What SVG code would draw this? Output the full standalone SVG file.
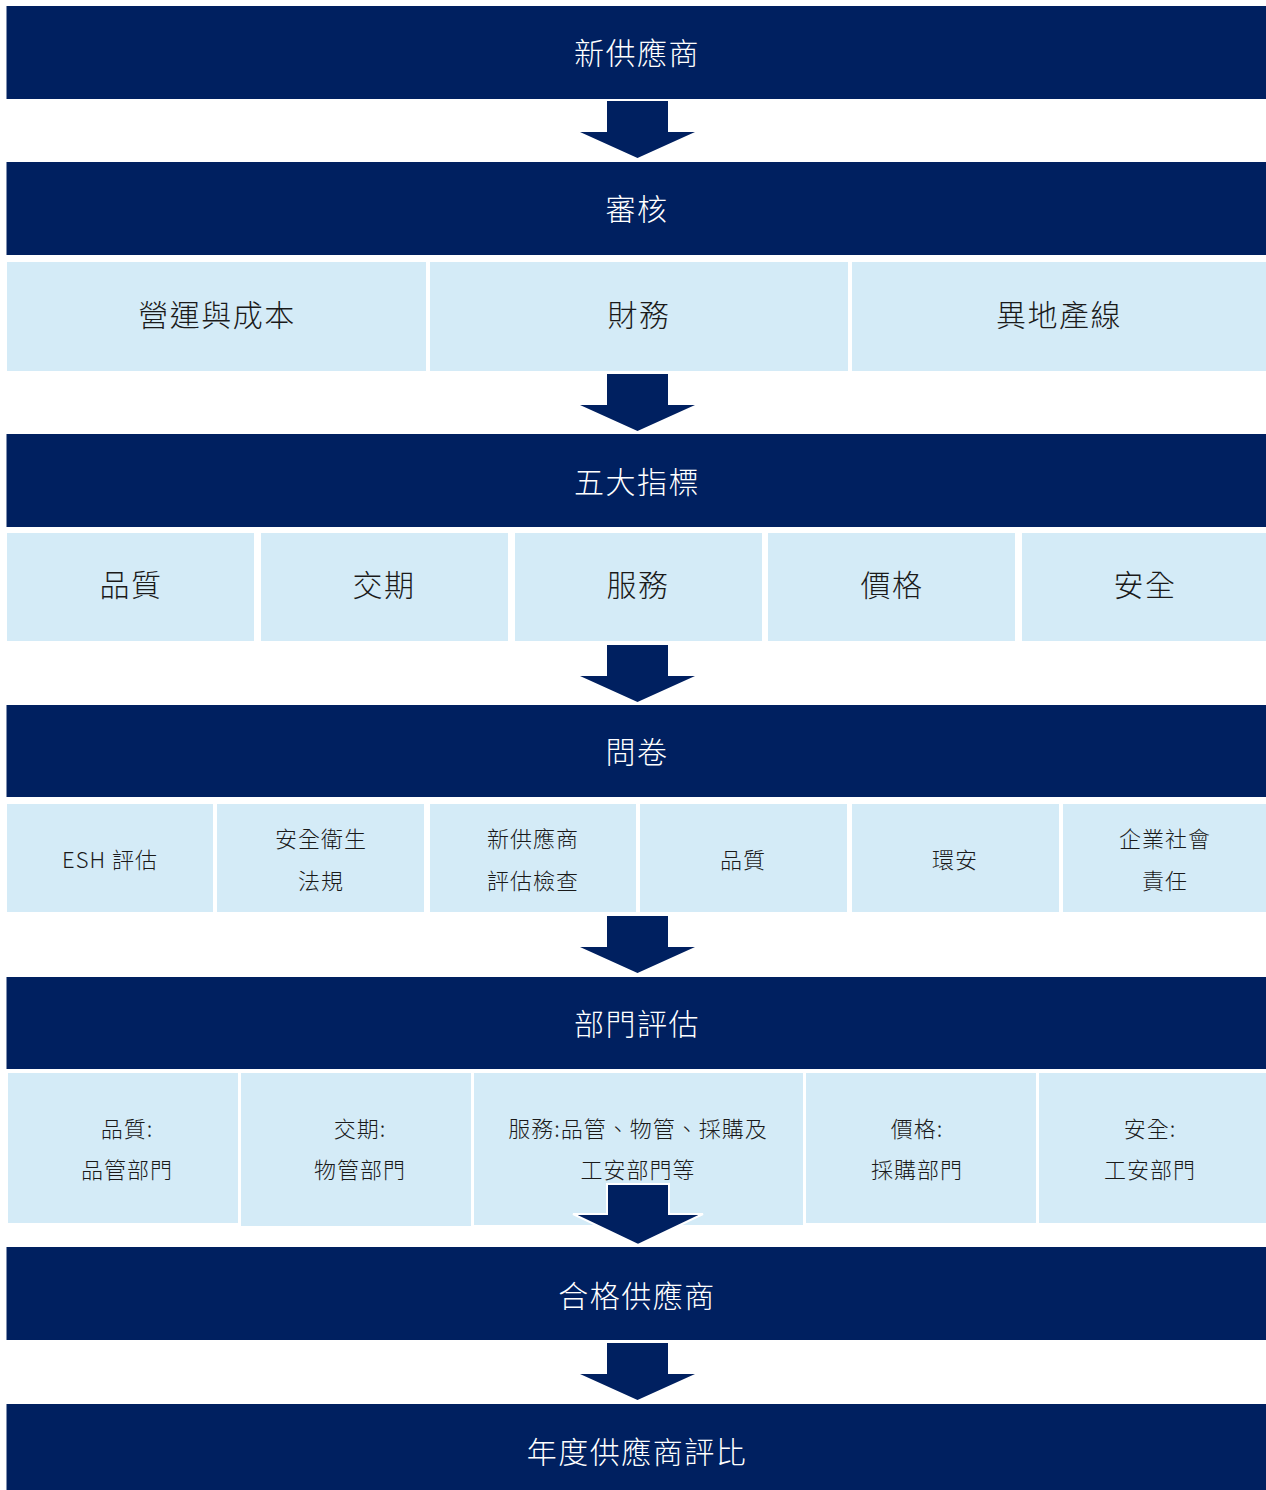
<svg xmlns="http://www.w3.org/2000/svg" xmlns:xlink="http://www.w3.org/1999/xlink" width="1266" height="1490" viewBox="0 0 1266 1490">
<style>
.bar{fill:#002060}
.cell{fill:#D4EBF7}
.bt{font-family:"Noto Sans CJK TC","Noto Sans CJK SC",sans-serif;font-size:30px;font-weight:300;fill:#FFFFFF;text-anchor:middle;letter-spacing:1.5px}
.ct{font-family:"Noto Sans CJK TC","Noto Sans CJK SC",sans-serif;font-size:30px;font-weight:300;fill:#1A1A1A;text-anchor:middle;letter-spacing:1.5px}
.st{font-family:"Noto Sans CJK TC","Noto Sans CJK SC",sans-serif;font-size:22px;font-weight:300;fill:#1A1A1A;text-anchor:middle;letter-spacing:1px}
.arr{fill:#002060}
</style>
<defs>
<path id="arrow" d="M607,0 H668 V31 H695 L637.5,57 L580,31 H607 Z"/>
</defs>
<rect width="1266" height="1490" fill="#FFFFFF"/>

<g id="bar1"><rect class="bar" x="6.5" y="6" width="1259.5" height="93"/><text class="bt" x="637" y="64">新供應商</text></g>
<g id="bar2"><rect class="bar" x="6.5" y="162" width="1259.5" height="93"/><text class="bt" x="637" y="220">審核</text></g>
<g id="c3a"><rect class="cell" x="7" y="262" width="419" height="109"/><text class="ct" x="217" y="326">營運與成本</text></g>
<g id="c3b"><rect class="cell" x="430" y="262" width="418" height="109"/><text class="ct" x="639" y="326">財務</text></g>
<g id="c3c"><rect class="cell" x="852" y="262" width="414" height="109"/><text class="ct" x="1059" y="326">異地產線</text></g>

<g id="bar3"><rect class="bar" x="6.5" y="434" width="1259.5" height="93"/><text class="bt" x="637" y="493">五大指標</text></g>
<g id="c4a"><rect class="cell" x="7" y="533" width="247" height="108"/><text class="ct" x="131" y="596">品質</text></g>
<g id="c4b"><rect class="cell" x="261" y="533" width="247" height="108"/><text class="ct" x="384" y="596">交期</text></g>
<g id="c4c"><rect class="cell" x="515" y="533" width="247" height="108"/><text class="ct" x="638" y="596">服務</text></g>
<g id="c4d"><rect class="cell" x="768" y="533" width="247" height="108"/><text class="ct" x="892" y="596">價格</text></g>
<g id="c4e"><rect class="cell" x="1022" y="533" width="244" height="108"/><text class="ct" x="1145" y="596">安全</text></g>

<g id="bar4"><rect class="bar" x="6.5" y="705" width="1259.5" height="92"/><text class="bt" x="637" y="763">問卷</text></g>
<g id="c5a"><rect class="cell" x="7" y="804" width="206" height="108"/><text class="st" x="110" y="868">ESH 評估</text></g>
<g id="c5b"><rect class="cell" x="217" y="804" width="207" height="108"/><text class="st" x="321" y="847">安全衛生</text><text class="st" x="321" y="889">法規</text></g>
<g id="c5c"><rect class="cell" x="430" y="804" width="206" height="108"/><text class="st" x="533" y="847">新供應商</text><text class="st" x="533" y="889">評估檢查</text></g>
<g id="c5d"><rect class="cell" x="640" y="804" width="207" height="108"/><text class="st" x="743" y="868">品質</text></g>
<g id="c5e"><rect class="cell" x="852" y="804" width="207" height="108"/><text class="st" x="955" y="868">環安</text></g>
<g id="c5f"><rect class="cell" x="1063" y="804" width="203" height="108"/><text class="st" x="1165" y="847">企業社會</text><text class="st" x="1165" y="889">責任</text></g>

<g id="bar5"><rect class="bar" x="6.5" y="977" width="1259.5" height="92"/><text class="bt" x="637" y="1035">部門評估</text></g>
<g id="c6a"><rect class="cell" x="8" y="1073" width="230" height="150"/><text class="st" x="127" y="1137">品質:</text><text class="st" x="127" y="1178">品管部門</text></g>
<g id="c6b"><rect class="cell" x="241" y="1073" width="230" height="153"/><text class="st" x="360" y="1137">交期:</text><text class="st" x="360" y="1178">物管部門</text></g>
<g id="c6c"><rect class="cell" x="474" y="1073" width="329" height="152"/><text class="st" x="638" y="1137">服務:品管、物管、採購及</text><text class="st" x="638" y="1178">工安部門等</text></g>
<g id="c6d"><rect class="cell" x="806" y="1073" width="230" height="150"/><text class="st" x="917" y="1137">價格:</text><text class="st" x="917" y="1178">採購部門</text></g>
<g id="c6e"><rect class="cell" x="1039" y="1073" width="227" height="150"/><text class="st" x="1150" y="1137">安全:</text><text class="st" x="1150" y="1178">工安部門</text></g>

<g id="bar6"><rect class="bar" x="6.5" y="1247" width="1259.5" height="93"/><text class="bt" x="637" y="1307">合格供應商</text></g>
<g id="bar7"><rect class="bar" x="6.5" y="1404" width="1259.5" height="86"/><text class="bt" x="637" y="1463">年度供應商評比</text></g>

<g id="connectors">
<use xlink:href="#arrow" class="arr" y="101"/>
<use xlink:href="#arrow" class="arr" y="374"/>
<use xlink:href="#arrow" class="arr" y="645"/>
<use xlink:href="#arrow" class="arr" y="916"/>
<path class="arr" d="M607,1184 H669 V1214 H703 L638,1245 L573,1214 H607 Z" stroke="#FFFFFF" stroke-width="2" stroke-linejoin="miter"/>
<use xlink:href="#arrow" class="arr" y="1343"/>
</g>
</svg>
